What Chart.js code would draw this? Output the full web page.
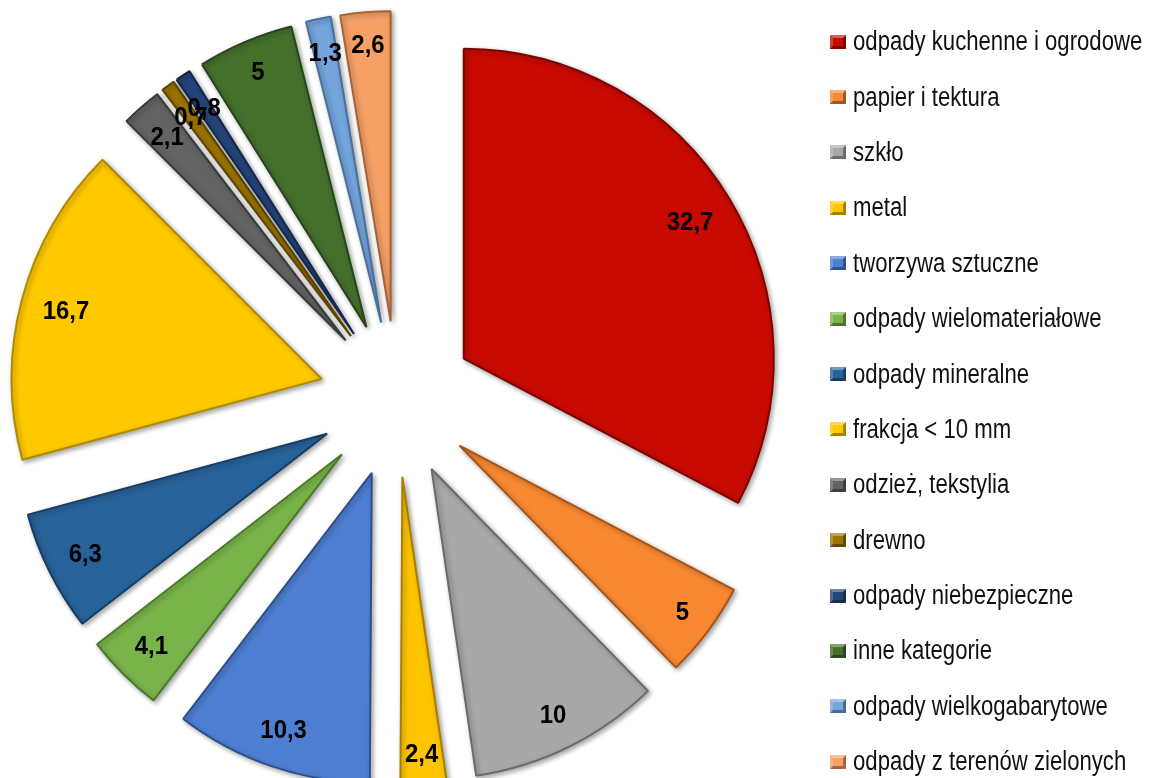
<!DOCTYPE html>
<html lang="pl">
<head>
<meta charset="utf-8">
<title>Skład morfologiczny odpadów</title>
<script src="https://cdn.jsdelivr.net/npm/chart.js@4.4.1/dist/chart.umd.min.js"></script>
<style>
  html, body { margin: 0; padding: 0; background: #fff; }
  .wrap { position: relative; width: 1170px; height: 778px; overflow: hidden; }
  .legend { position: absolute; left: 830px; top: 14px; margin: 0; padding: 0; list-style: none;
    font-family: "Liberation Sans", Arial, sans-serif; font-size: 27px; color: #111; }
  .legend li { height: 55.4px; display: flex; align-items: center; white-space: nowrap; }
  .legend .box { flex: none; width: 16px; height: 14px; margin-right: 7px; box-sizing: border-box;
    border: 3px solid rgba(0,0,0,0.35); border-top-color: rgba(255,255,255,0.35); border-left-color: rgba(255,255,255,0.2); }
  .legend .txt { display: inline-block; transform: scaleX(0.82); transform-origin: left center; }
</style>
</head>
<body>
<div class="wrap">
  <canvas id="pie"></canvas>
  <ul class="legend" id="legend"></ul>
</div>
<script>
const labels = [
  "odpady kuchenne i ogrodowe",
  "papier i tektura",
  "szkło",
  "metal",
  "tworzywa sztuczne",
  "odpady wielomateriałowe",
  "odpady mineralne",
  "frakcja < 10 mm",
  "odzież, tekstylia",
  "drewno",
  "odpady niebezpieczne",
  "inne kategorie",
  "odpady wielkogabarytowe",
  "odpady z terenów zielonych"
];
const values = [32.7, 5, 10, 2.4, 10.3, 4.1, 6.3, 16.7, 2.1, 0.7, 0.8, 5, 1.3, 2.6];
const colors = ["#C80A00", "#F88832", "#A8A8A8", "#FFC400", "#4E7FD2", "#79B44A", "#28629B", "#FFC900",
  "#636363", "#9C7400", "#254479", "#45702C", "#74A5DD", "#F6A066"];
const edges = ["#7A0500", "#A85414", "#6A6A6A", "#A87E00", "#2D4F8C", "#4C7A2A", "#163E63", "#B08A00",
  "#3A3A3A", "#5E4600", "#13284A", "#27441A", "#45709F", "#A86236"];

(() => {
  const EXPLODE = 78;
  const fmt = v => String(v).replace(".", ",");

  // every slice pushed out by the same distance along its bisector
  const explodedSlices = {
    id: "explodedSlices",
    beforeDatasetDraw(chart, args) {
      const ctx = chart.ctx;
      ctx.save();
      ctx.shadowColor = "rgba(0,0,0,0.35)";
      ctx.shadowBlur = 5;
      ctx.shadowOffsetX = 2;
      ctx.shadowOffsetY = 2;
      args.meta.data.forEach(arc => {
        const mid = (arc.startAngle + arc.endAngle) / 2;
        ctx.save();
        ctx.translate(Math.cos(mid) * EXPLODE, Math.sin(mid) * EXPLODE);
        arc.draw(ctx);
        ctx.restore();
      });
      ctx.restore();
      return false;
    },
    afterDatasetsDraw(chart) {
      const ctx = chart.ctx;
      const meta = chart.getDatasetMeta(0);
      ctx.save();
      ctx.font = 'bold 26px "Liberation Sans", Arial, sans-serif';
      ctx.fillStyle = "#000";
      ctx.textAlign = "center";
      ctx.textBaseline = "middle";
      meta.data.forEach((arc, i) => {
        const text = fmt(values[i]);
        const hw = ctx.measureText(text).width * 0.92 / 2;
        const hh = 11;
        const mid = (arc.startAngle + arc.endAngle) / 2;
        const c = Math.cos(mid), s = Math.sin(mid);
        const dist = EXPLODE + arc.outerRadius - 20 - (hw * Math.abs(c) + hh * Math.abs(s));
        ctx.save();
        ctx.translate(arc.x + c * dist, arc.y + s * dist);
        ctx.scale(0.92, 1);
        ctx.fillText(text, 0, 1);
        ctx.restore();
      });
      ctx.restore();
    }
  };

  new Chart(document.getElementById("pie"), {
    type: "pie",
    data: {
      labels: labels,
      datasets: [{
        data: values,
        backgroundColor: colors,
        borderColor: edges,
        borderWidth: 2,
        hoverOffset: 0
      }]
    },
    options: {
      responsive: true,
      maintainAspectRatio: false,
      animation: false,
      radius: 310,
      layout: { padding: { left: 0, right: 376, top: 20, bottom: 0 } },
      plugins: {
        legend: { display: false },
        tooltip: { enabled: false }
      }
    },
    plugins: [explodedSlices]
  });

  const legend = document.getElementById("legend");
  labels.forEach((name, i) => {
    const li = document.createElement("li");
    const box = document.createElement("span");
    box.className = "box";
    box.style.background = colors[i];
    const txt = document.createElement("span");
    txt.className = "txt";
    txt.textContent = name;
    li.appendChild(box);
    li.appendChild(txt);
    legend.appendChild(li);
  });
})();
</script>
</body>
</html>
